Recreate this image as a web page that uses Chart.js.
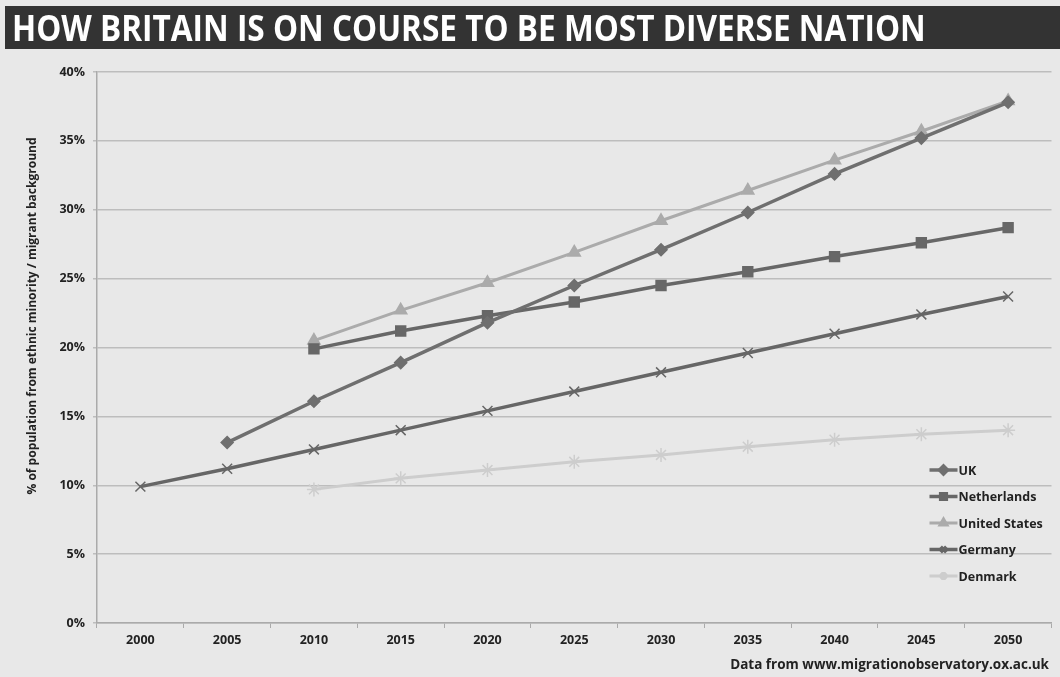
<!DOCTYPE html>
<html>
<head>
<meta charset="utf-8">
<script src="https://cdn.jsdelivr.net/npm/chart.js@4"></script>
<style>
  html, body { margin: 0; padding: 0; background: #ffffff; }
  #wrap { position: relative; width: 1060px; height: 677px; background: #e8e8e8; overflow: hidden; }
  #title {
    position: absolute; left: 5px; top: 6px; width: 1055px; height: 43px;
    background: #333333; color: #ffffff;
    font-family: "Open Sans", sans-serif; font-weight: bold;
    font-size: 36px; line-height: 43px; padding-left: 7px; box-sizing: border-box;
    white-space: nowrap;
  }
  #title span { display: inline-block; transform: scaleX(0.877); transform-origin: left center; }
  #source {
    position: absolute; right: 11px; top: 655px;
    font-family: "Open Sans", sans-serif; font-weight: bold; font-size: 13.5px; color: #222;
  }
  #chartBox { position: absolute; left: 0; top: 0; width: 1060px; height: 677px; }
</style>
</head>
<body>
<div id="wrap">
  <div id="chartBox"><canvas id="myChart" width="1060" height="677"></canvas></div>
  <div id="title"><span>HOW BRITAIN IS ON COURSE TO BE MOST DIVERSE NATION</span></div>
  <div id="source">Data from www.migrationobservatory.ox.ac.uk</div>
</div>
<script>
let years = ['2000', '2005', '2010', '2015', '2020', '2025', '2030', '2035', '2040', '2045', '2050'];

let ukValues          = [null, 13.1, 16.1, 18.9, 21.8, 24.5, 27.1, 29.8, 32.6, 35.2, 37.8];
let netherlandsValues = [null, null, 19.9, 21.2, 22.3, 23.3, 24.5, 25.5, 26.6, 27.6, 28.7];
let usValues          = [null, null, 20.5, 22.7, 24.7, 26.9, 29.2, 31.4, 33.6, 35.7, 37.9];
let germanyValues     = [9.9, 11.2, 12.6, 14.0, 15.4, 16.8, 18.2, 19.6, 21.0, 22.4, 23.7];
let denmarkValues     = [null, null, 9.7, 10.5, 11.1, 11.7, 12.2, 12.8, 13.3, 13.7, 14.0];

let yTicks = [0, 5, 10, 15, 20, 25, 30, 35, 40];
let yTitle = '% of population from ethnic minority / migrant background';

const labelFont = '"Open Sans", sans-serif';

// legend drawn inside the plot, bottom right like the original
const insideLegend = {
    id: 'insideLegend',
    afterDraw(chart) {
        const ctx = chart.ctx;
        const x0 = chart.chartArea.right - 122;
        let y = chart.chartArea.top + 398;
        ctx.save();
        ctx.font = 'bold 12.5px ' + labelFont;
        ctx.textBaseline = 'middle';
        chart.data.datasets.forEach(ds => {
            ctx.strokeStyle = ds.borderColor;
            ctx.lineWidth = ds.borderWidth;
            ctx.beginPath();
            ctx.moveTo(x0, y);
            ctx.lineTo(x0 + 28, y);
            ctx.stroke();
            ctx.fillStyle = ds.borderColor;
            Chart.helpers.drawPoint(ctx, {
                pointStyle: ds.pointStyle,
                radius: Math.min(ds.pointRadius, 4),
                borderWidth: 1
            }, x0 + 14, y);
            ctx.fillStyle = '#222';
            ctx.fillText(ds.label, x0 + 29, y + 1);
            y += 26.5;
        });
        ctx.restore();
    }
};

// vertical axis title, placed a little above the axis centre as in the original
const sideTitle = {
    id: 'sideTitle',
    afterDraw(chart) {
        const ctx = chart.ctx;
        ctx.save();
        ctx.translate(33, 316);
        ctx.rotate(-Math.PI / 2);
        ctx.font = 'bold 12px ' + labelFont;
        ctx.fillStyle = '#222';
        ctx.textAlign = 'center';
        ctx.textBaseline = 'middle';
        ctx.fillText(yTitle, 0, 0);
        ctx.restore();
    }
};

function makeSet(label, values, color, style, radius, width) {
    return {
        label: label,
        data: values,
        borderColor: color,
        backgroundColor: color,
        pointBackgroundColor: color,
        pointBorderColor: color,
        pointStyle: style,
        pointRadius: radius,
        pointBorderWidth: 1.5,
        borderWidth: width,
        spanGaps: false
    };
}

let ctx = document.querySelector('#myChart').getContext('2d');
let myChart = new Chart(ctx, {
    type: 'line',
    data: {
        labels: years,
        datasets: [
            makeSet('UK', ukValues, '#6f6f6f', 'rectRot', 6, 3.5),
            makeSet('Netherlands', netherlandsValues, '#676767', 'rect', 7, 3.5),
            makeSet('United States', usValues, '#ababab', 'triangle', 7, 3),
            makeSet('Germany', germanyValues, '#666666', 'crossRot', 7, 3.5),
            makeSet('Denmark', denmarkValues, '#cdcdcd', 'star', 7, 3)
        ]
    },
    options: {
        responsive: false,
        animation: false,
        layout: { padding: { top: 72, right: 5, bottom: 0, left: 20 } },
        plugins: {
            legend: { display: false },
            tooltip: { enabled: false }
        },
        scales: {
            x: {
                offset: true,
                grid: { offset: true, drawOnChartArea: false, color: '#aaaaaa', tickLength: 5 },
                border: { color: '#aaaaaa', width: 1.5 },
                ticks: {
                    color: '#222',
                    font: { family: labelFont, weight: 'bold', size: 12.5 },
                    padding: 5
                },
                afterFit(scale) { scale.height = 54; }
            },
            y: {
                min: 0,
                max: 40,
                afterBuildTicks(scale) {
                    scale.ticks = yTicks.map(v => ({ value: v }));
                },
                grid: { color: '#bdbdbd', lineWidth: 1.5, tickLength: 4 },
                border: { color: '#aaaaaa', width: 1.5 },
                ticks: {
                    color: '#222',
                    font: { family: labelFont, weight: 'bold', size: 12.5 },
                    padding: 8,
                    callback: function (value) {
                        return value + '%';
                    }
                },
                afterFit(scale) { scale.width = 77; }
            }
        }
    },
    plugins: [insideLegend, sideTitle]
});
</script>
</body>
</html>
